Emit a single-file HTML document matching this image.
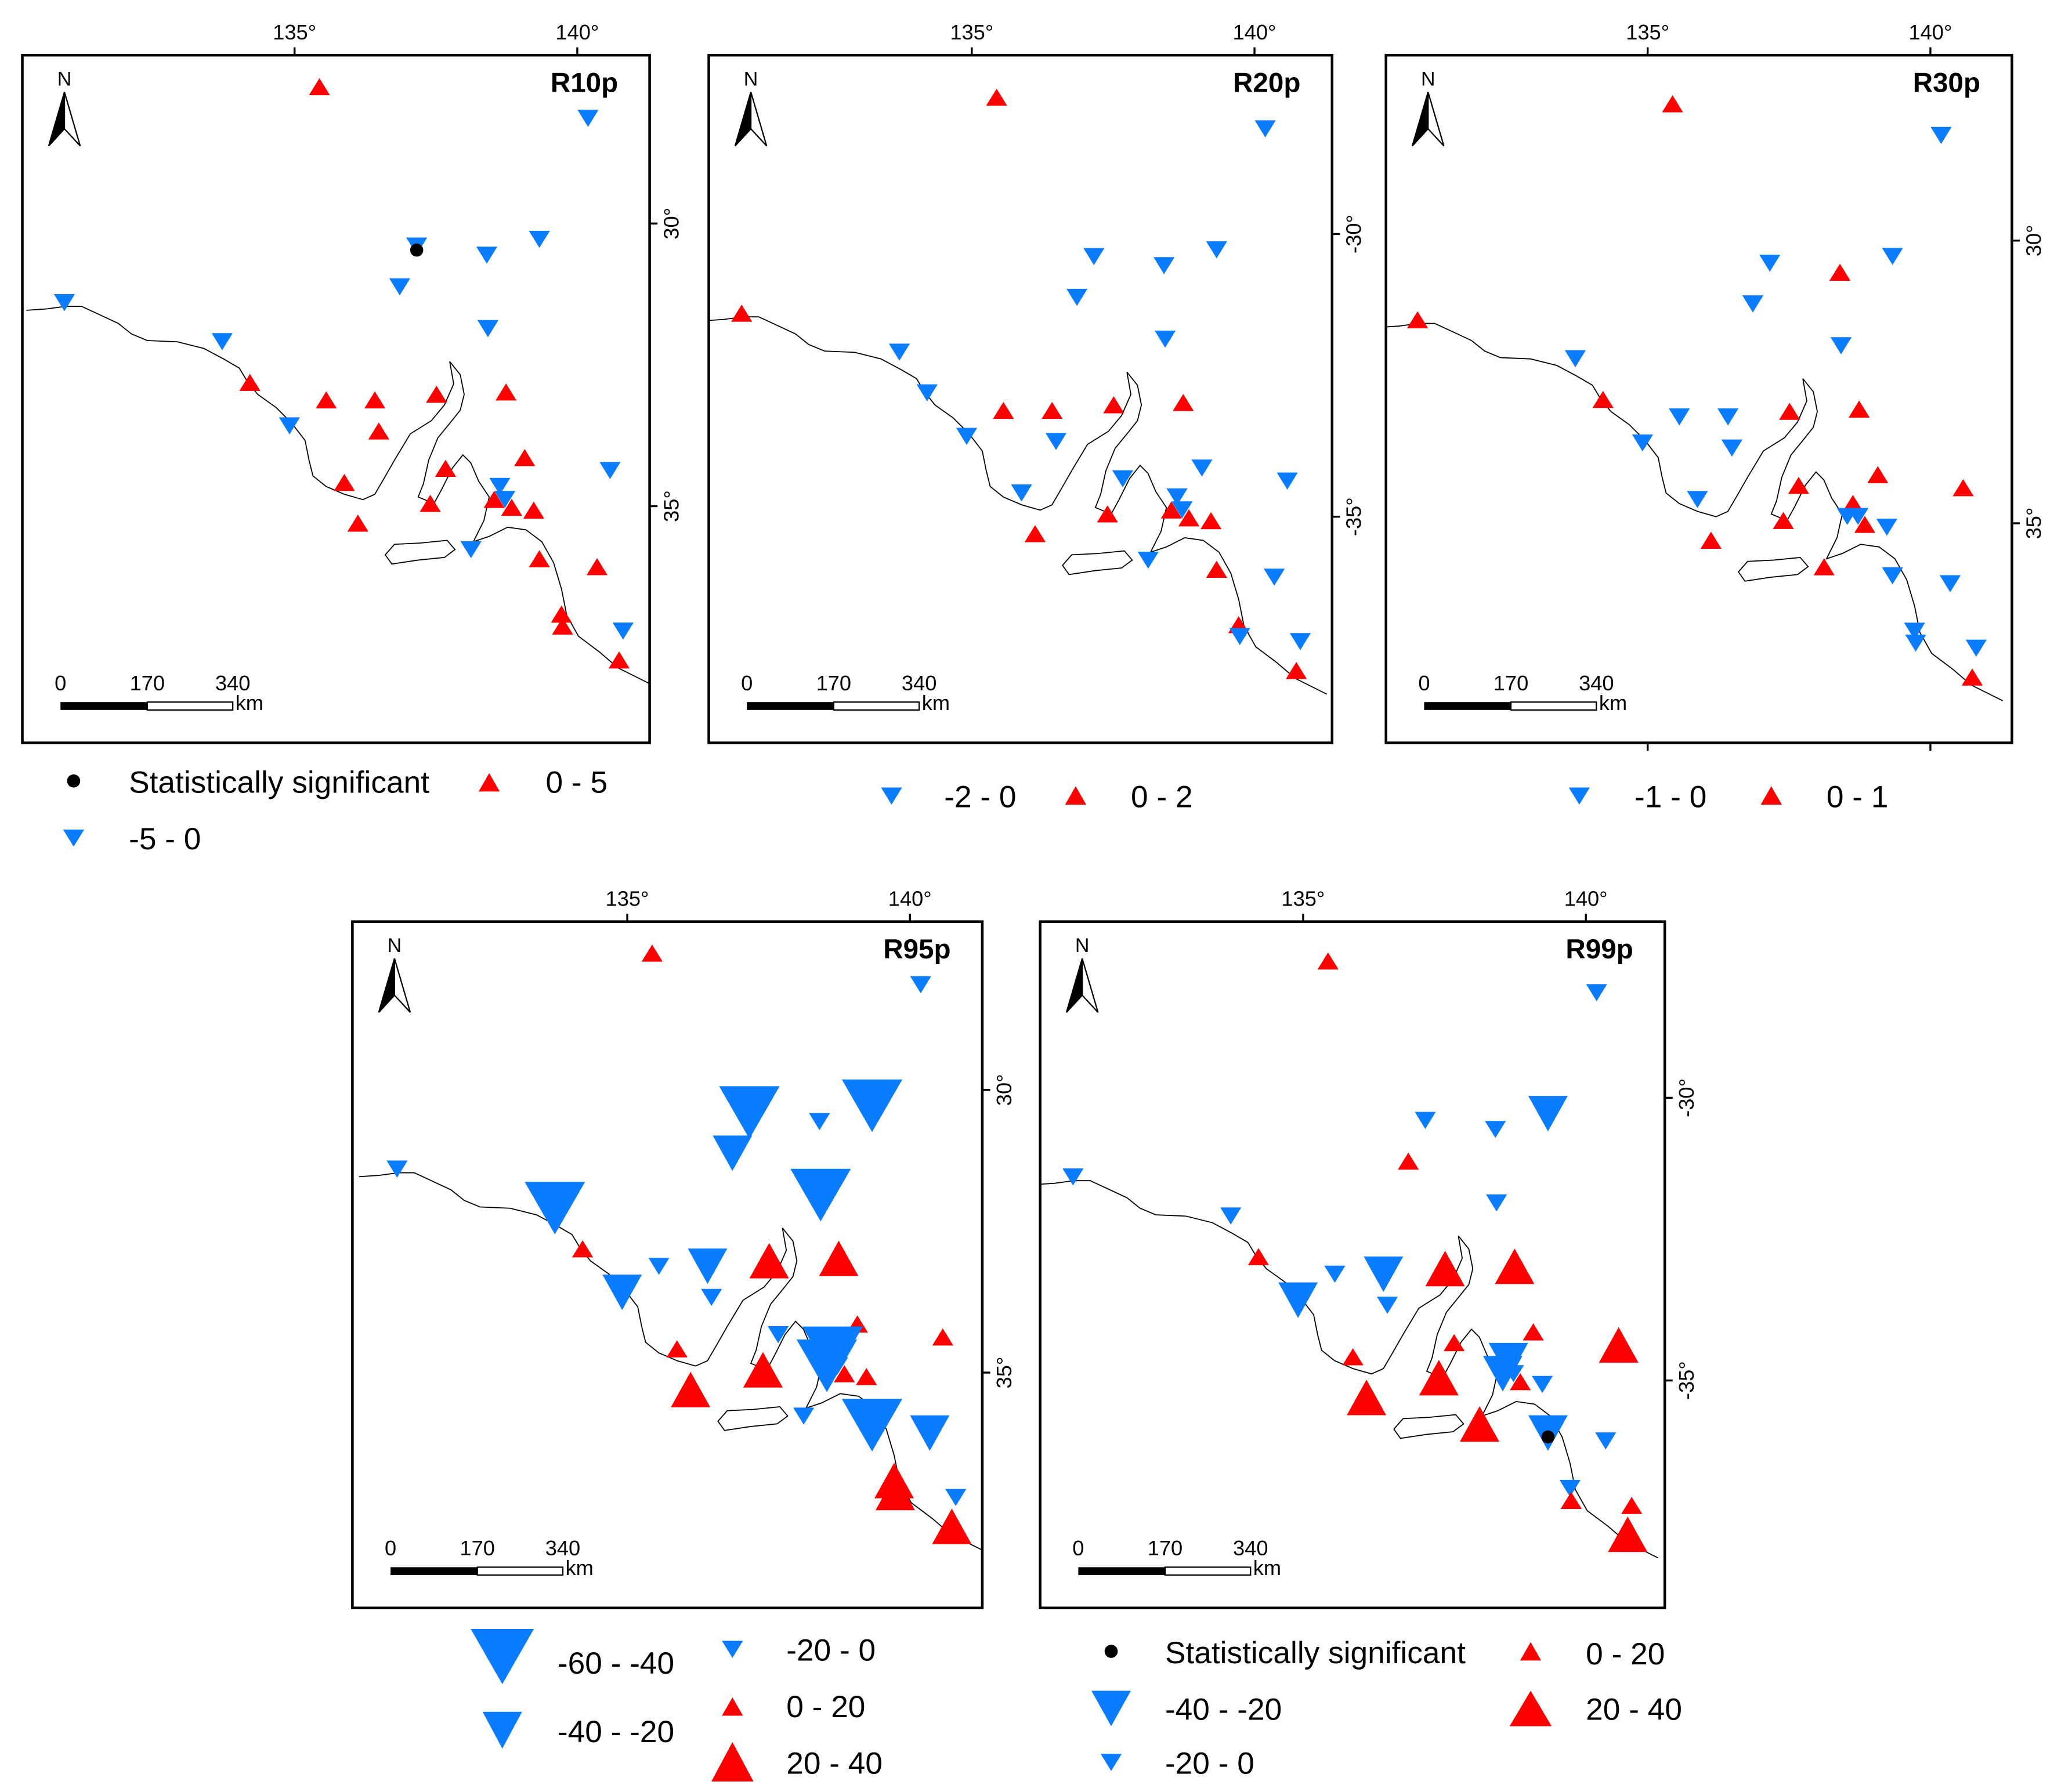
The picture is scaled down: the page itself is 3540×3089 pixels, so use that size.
<!DOCTYPE html>
<html><head><meta charset="utf-8"><style>
html,body{margin:0;padding:0;background:#fff}
svg{display:block;font-family:"Liberation Sans",sans-serif}
</style></head><body>
<svg id="fig" width="3540" height="3089" viewBox="0 0 1562 1363" xmlns="http://www.w3.org/2000/svg">
<rect width="1562" height="1363" fill="#fff"/>
<g id="legends" font-size="23.5" fill="#000">
  <g>
    <circle cx="56" cy="594" r="5" fill="#000"/><text x="98" y="603">Statistically significant</text>
    <polygon points="372,588 364,602 380,602" fill="#ff0000"/><text x="415" y="603">0 - 5</text>
    <polygon points="48,631 64,631 56,644" fill="#0a7cff"/><text x="98" y="646">-5 - 0</text>
  </g>
  <g>
    <polygon points="670,599 686,599 678,612" fill="#0a7cff"/><text x="718" y="614">-2 - 0</text>
    <polygon points="818,598 810,612 826,612" fill="#ff0000"/><text x="860" y="614">0 - 2</text>
  </g>
  <g>
    <polygon points="1193,599 1209,599 1201,612" fill="#0a7cff"/><text x="1243" y="614">-1 - 0</text>
    <polygon points="1347,598 1339,612 1355,612" fill="#ff0000"/><text x="1389" y="614">0 - 1</text>
  </g>
  <g>
    <polygon points="358,1239 406,1239 382,1281" fill="#0a7cff"/><text x="424" y="1273">-60 - -40</text>
    <polygon points="367,1302 397,1302 382,1330" fill="#0a7cff"/><text x="424" y="1325">-40 - -20</text>
    <polygon points="549,1248 565,1248 557,1261" fill="#0a7cff"/><text x="598" y="1263">-20 - 0</text>
    <polygon points="557,1291 549,1305 565,1305" fill="#ff0000"/><text x="598" y="1306">0 - 20</text>
    <polygon points="557,1325 541,1355 573,1355" fill="#ff0000"/><text x="598" y="1349">20 - 40</text>
  </g>
  <g>
    <circle cx="845" cy="1256" r="5" fill="#000"/><text x="886" y="1265">Statistically significant</text>
    <polygon points="1164,1249 1156,1263 1172,1263" fill="#ff0000"/><text x="1206" y="1266">0 - 20</text>
    <polygon points="830,1286 860,1286 845,1313" fill="#0a7cff"/><text x="886" y="1308">-40 - -20</text>
    <polygon points="1164,1286 1148,1313 1180,1313" fill="#ff0000"/><text x="1206" y="1308">20 - 40</text>
    <polygon points="837,1334 853,1334 845,1347" fill="#0a7cff"/><text x="886" y="1349">-20 - 0</text>
  </g>
</g>
</svg>
<script>
// Station locations (lon E, lat S)
const stationLon=[135.44,140.19,137.16,138.40,139.33,136.86,138.42,130.93,133.72,134.21,135.56,136.42,137.51,138.74,134.91,136.49,135.88,137.67,139.07,140.58,138.63,138.72,137.40,138.53,138.84,139.23,136.12,138.12,139.33,140.35,139.72,139.74,140.81,140.74];
const stationLat=[27.58,28.14,30.40,30.56,30.28,31.12,31.86,31.40,32.09,32.81,33.12,33.12,33.02,32.98,33.58,33.67,34.58,34.33,34.14,34.37,34.65,34.88,34.95,34.88,35.02,35.07,35.30,35.77,35.93,36.07,36.91,37.12,37.21,37.72];
// Trend values per index
const r10pValues=[2,-2,-3,-2,-2,-2,-2,-2,-2,2,2,2,2,2,-2,2,2,2,2,-2,-2,-2,2,2,2,2,2,-2,2,2,2,2,-2,2];
const r10pSig=[2];
const r20pValues=[1,-1,-1,-1,-1,-1,-1,1,-1,-1,1,1,1,1,-1,-1,-1,-1,-1,-1,-1,-1,1,1,1,1,1,-1,1,-1,1,-1,-1,1];
const r20pSig=[];
const r30pValues=[0.5,-0.5,-0.5,0.5,-0.5,-0.5,-0.5,0.5,-0.5,0.5,-0.5,-0.5,0.5,0.5,-0.5,-0.5,-0.5,0.5,0.5,0.5,0.5,-0.5,0.5,-0.5,0.5,-0.5,0.5,0.5,-0.5,-0.5,-0.5,-0.5,-0.5,0.5];
const r30pSig=[];
const r95pValues=[10,-10,-50,-10,-50,-30,-50,-10,-50,10,-10,-30,30,30,-30,-10,10,-10,10,10,-50,-10,30,-50,10,10,30,-10,-50,-30,30,30,-10,30];
const r95pSig=[];
const r99pValues=[10,-10,-10,-10,-30,10,-10,-10,-10,10,-10,-30,30,30,-30,-10,10,10,10,30,-30,-10,30,-30,10,-10,30,30,-30,-10,-10,10,10,30];
const r99pSig=[28];
const panelTitles=["R10p","R20p","R30p","R95p","R99p"];
const lonTicks=[135,140];
const latTicks=[30,35];

const NS='http://www.w3.org/2000/svg';
const svg=document.getElementById('fig');
function mk(t,a,p){const e=document.createElementNS(NS,t);for(const k in a)e.setAttribute(k,a[k]);(p||svg).appendChild(e);return e;}
const panels=[
 {box:[17,42,494,565],ox:224,oy:170,vals:r10pValues,sig:r10pSig,neg:'',kind:'r10',botTicks:false},
 {box:[539,42,1013,565],ox:739,oy:178,vals:r20pValues,sig:r20pSig,neg:'-',kind:'r20',botTicks:false},
 {box:[1054,42,1530,565],ox:1253,oy:183,vals:r30pValues,sig:r30pSig,neg:'',kind:'r30',botTicks:true},
 {box:[268,701,747,1223],ox:477,oy:829,vals:r95pValues,sig:r95pSig,neg:'',kind:'r95',botTicks:false},
 {box:[791,701,1266,1223],ox:991,oy:835,vals:r99pValues,sig:r99pSig,neg:'-',kind:'r99',botTicks:false}
];
const S=43;
// coastline traced in R10p pixel space (geographic outline)
const coast=[[20,236],[35,235],[50,233],[62,233],[75,239],[90,246],[100,254],[112,259],[135,260],[155,265],[170,273],[182,280],[188,290],[196,300],[210,310],[222,322],[232,335],[235,350],[238,362],[248,370],[262,376],[276,380],[285,376],[292,364],[300,350],[312,330],[328,320],[338,308],[345,292],[342,275],[350,285],[353,300],[350,312],[342,322],[333,333],[326,350],[322,368],[318,378],[330,383],[336,372],[344,356],[352,346],[358,352],[364,366],[372,378],[368,396],[360,412],[372,408],[386,401],[400,403],[412,412],[421,428],[427,448],[431,468],[440,484],[456,496],[470,508],[494,520]];
const island=[[293,422],[300,414],[320,413],[340,411],[346,418],[338,424],[318,426],[298,429]];
panels.forEach((p,pi)=>{
  const [x0,y0,x1,y1]=p.box;
  const g=mk('g',{});
  
  
  const xs=lon=>p.ox+(lon-135)*S, ys=lat=>p.oy+(lat-30)*S;
  const cid='clip'+pi;
  const cp=mk('clipPath',{id:cid},g);mk('rect',{x:x0,y:y0,width:x1-x0,height:y1-y0},cp);
  const inner=mk('g',{'clip-path':'url(#'+cid+')'},g);
  const tx=(pt)=>[(p.ox+(pt[0]-224)).toFixed(1),(p.oy+(pt[1]-170)).toFixed(1)].join(',');
  const cl=mk('polyline',{points:coast.map(tx).join(' '),fill:'none',stroke:'#000','stroke-width':0.8},inner);
  
  
  const ki=mk('polygon',{points:island.map(tx).join(' '),fill:'none',stroke:'#000','stroke-width':0.8},inner);
  
  
  const big=p.kind==='r95'||p.kind==='r99';
  p.vals.forEach((v,i)=>{
    const cx=xs(stationLon[i]), cy=ys(stationLat[i]);
    let w=8,h=13;
    if(big){const a=Math.abs(v); if(a>40){w=23;h=40;} else if(a>20){w=15;h=27;}}
    let pts;
    if(v>=0) pts=[[cx,cy-h/2],[cx-w,cy+h/2],[cx+w,cy+h/2]];
    else pts=[[cx-w,cy-h/2],[cx+w,cy-h/2],[cx,cy+h/2]];
    const m=mk('polygon',{points:pts.map(q=>q.join(',')).join(' '),fill:v>=0?'#ff0000':'#0a7cff'},inner);
    
    
  });
  p.sig.forEach(i=>{
    const d=mk('circle',{cx:xs(stationLon[i]),cy:ys(stationLat[i])+3,r:5,fill:'#000'},inner);
    
    
  });
  const fr=mk('rect',{x:x0,y:y0,width:x1-x0,height:y1-y0,fill:'none',stroke:'#000','stroke-width':2},g);
  
  
  lonTicks.forEach(t=>{
    const x=xs(t);
    mk('line',{x1:x,y1:y0,x2:x,y2:y0-6,stroke:'#000','stroke-width':1.5},g);
    const tl=mk('text',{x:x,y:y0-12,'text-anchor':'middle','font-size':16},g);tl.textContent=t+'°';
    
    
    if(p.botTicks) mk('line',{x1:x,y1:y1,x2:x,y2:y1+6,stroke:'#000','stroke-width':1.5},g);
  });
  latTicks.forEach(t=>{
    const y=ys(t);
    mk('line',{x1:x1,y1:y,x2:x1+6,y2:y,stroke:'#000','stroke-width':1.5},g);
    const tl=mk('text',{x:x1+22,y:y,'text-anchor':'middle','font-size':16,transform:'rotate(-90 '+(x1+22)+' '+y+')'},g);
    tl.textContent=p.neg+t+'°';
    
    
  });
  const tt=mk('text',{x:x1-24,y:y0+28,'text-anchor':'end','font-size':21,'font-weight':'bold'},g);
  tt.textContent=panelTitles[pi];
  
  
  const na=mk('g',{},g);
  
  
  const ax=x0+32, ay=y0;
  const nt=mk('text',{x:ax,y:ay+23,'text-anchor':'middle','font-size':15},na);nt.textContent='N';
  mk('polygon',{points:`${ax},${ay+28} ${ax-12},${ay+69} ${ax},${ay+56}`,fill:'#000',stroke:'#000','stroke-width':1},na);
  mk('polygon',{points:`${ax},${ay+28} ${ax+12},${ay+69} ${ax},${ay+56}`,fill:'#fff',stroke:'#000','stroke-width':1},na);
  const sb=mk('g',{},g);
  
  
  const sx=x0+29, sy=y1-31;
  mk('rect',{x:sx,y:sy,width:66,height:6,fill:'#000'},sb);
  mk('rect',{x:sx+66,y:sy,width:65,height:6,fill:'#fff',stroke:'#000','stroke-width':1},sb);
  [['0',0],['170',66],['340',131]].forEach(([s,o])=>{const t=mk('text',{x:sx+o,y:sy-9,'text-anchor':'middle','font-size':16},sb);t.textContent=s;});
  const km=mk('text',{x:sx+133,y:sy+6,'font-size':16},sb);km.textContent='km';
});
</script>
</body></html>
